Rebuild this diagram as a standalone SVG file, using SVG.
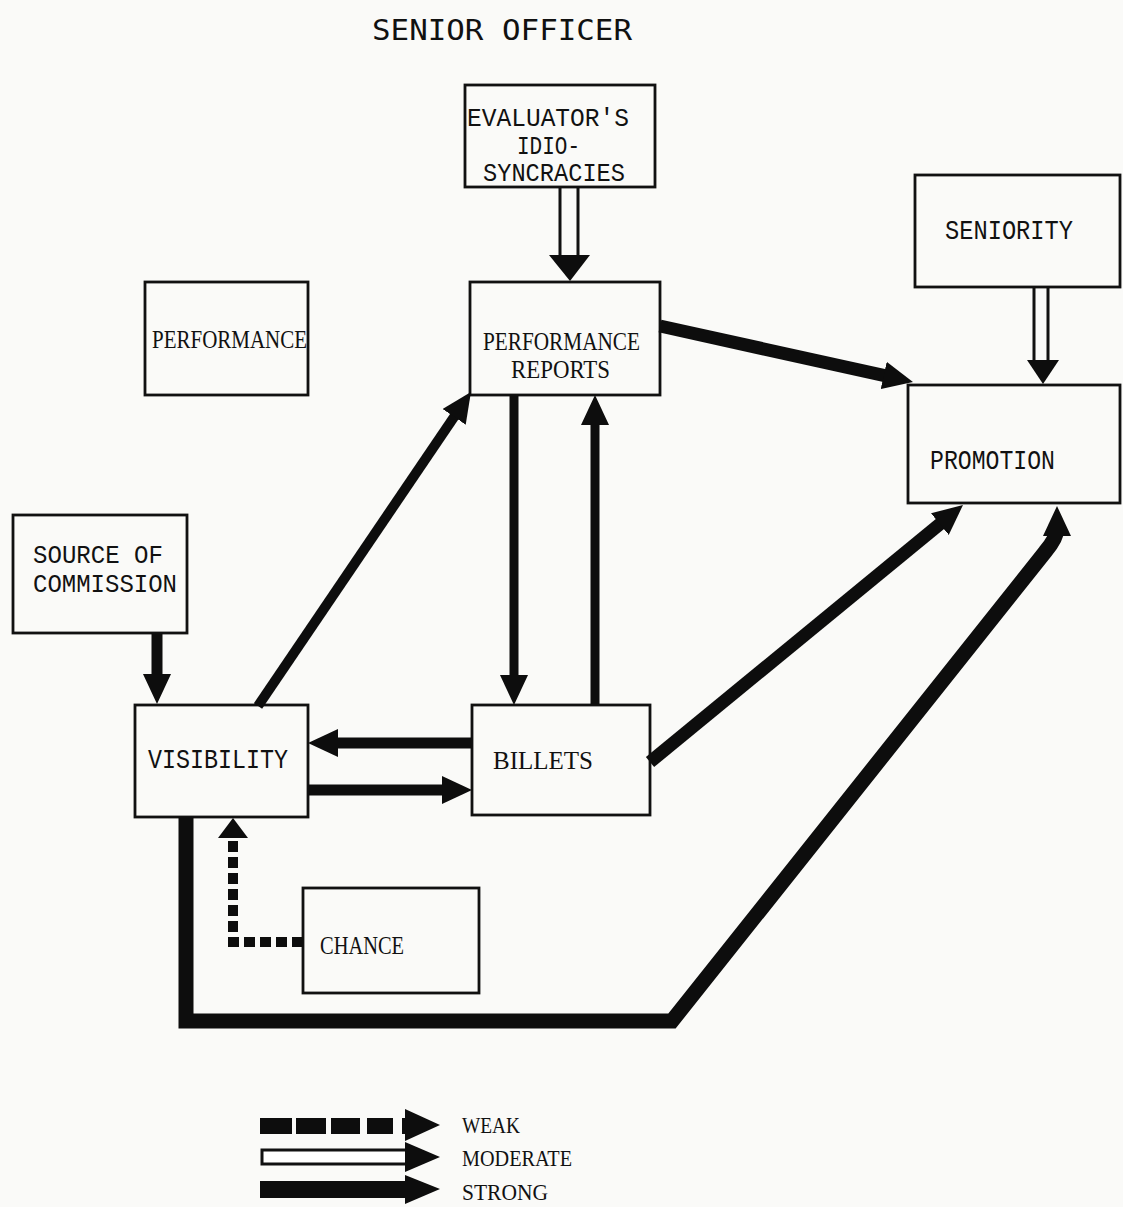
<svg xmlns="http://www.w3.org/2000/svg" width="1123" height="1207" viewBox="0 0 1123 1207">
<style>
.box{fill:none;stroke:#111;stroke-width:2.8}
.tw{font-family:"Liberation Mono","Courier New",monospace;font-size:27px;fill:#111}
.tw2{font-family:"Liberation Mono","Courier New",monospace;font-size:25px;fill:#111}
.sf{font-family:"Liberation Serif","Times New Roman",serif;font-size:25px;fill:#111}
.lg{font-family:"Liberation Serif","Times New Roman",serif;font-size:23px;fill:#111}
.ttl{font-family:"DejaVu Sans Mono","Liberation Mono",monospace;font-size:29px;fill:#111}
.strong{fill:none;stroke:#0d0d0d;stroke-linecap:butt;stroke-linejoin:miter}
.mod{stroke:#111;stroke-width:3;fill:none}
.head{fill:#0d0d0d}
</style>
<defs>
<marker id="ah" viewBox="0 0 30 28" refX="8" refY="14" markerWidth="30" markerHeight="28" markerUnits="userSpaceOnUse" orient="auto">
<path d="M0,0 L30,14 L0,28 Z" fill="#0d0d0d"/>
</marker>
</defs>
<rect width="1123" height="1207" fill="#fafaf8"/>
<text class="ttl" x="372" y="40" textLength="260" lengthAdjust="spacingAndGlyphs">SENIOR OFFICER</text>

<g id="evaluator">
<rect class="box" x="465" y="85" width="190" height="102"/>
<text class="tw2" x="467" y="126" font-size="24" textLength="162" lengthAdjust="spacingAndGlyphs">EVALUATOR'S</text>
<text class="tw2" x="517" y="154" font-size="19" textLength="63" lengthAdjust="spacingAndGlyphs">IDIO-</text>
<text class="tw2" x="483" y="181" font-size="21" textLength="142" lengthAdjust="spacingAndGlyphs">SYNCRACIES</text>
</g>
<g id="seniority">
<rect class="box" x="915" y="175" width="205" height="112"/>
<text class="tw" x="945" y="239" textLength="128" lengthAdjust="spacingAndGlyphs">SENIORITY</text>
</g>
<g id="performance">
<rect class="box" x="145" y="282" width="163" height="113"/>
<text class="sf" x="152" y="348" textLength="155" lengthAdjust="spacingAndGlyphs">PERFORMANCE</text>
</g>
<g id="performance-reports">
<rect class="box" x="470" y="282" width="190" height="113"/>
<text class="sf" x="483" y="350" textLength="157" lengthAdjust="spacingAndGlyphs">PERFORMANCE</text>
<text class="sf" x="511" y="378" textLength="99" lengthAdjust="spacingAndGlyphs">REPORTS</text>
</g>
<g id="promotion">
<rect class="box" x="908" y="385" width="212" height="118"/>
<text class="tw" x="930" y="469" textLength="125" lengthAdjust="spacingAndGlyphs">PROMOTION</text>
</g>
<g id="source-of-commission">
<rect class="box" x="13" y="515" width="174" height="118"/>
<text class="tw2" x="33" y="563" textLength="130" lengthAdjust="spacingAndGlyphs">SOURCE OF</text>
<text class="tw2" x="33" y="592" textLength="144" lengthAdjust="spacingAndGlyphs">COMMISSION</text>
</g>
<g id="visibility">
<rect class="box" x="135" y="705" width="173" height="112"/>
<text class="tw" x="148" y="768" textLength="140" lengthAdjust="spacingAndGlyphs">VISIBILITY</text>
</g>
<g id="billets">
<rect class="box" x="472" y="705" width="178" height="110"/>
<text class="sf" x="493" y="769" textLength="100" lengthAdjust="spacingAndGlyphs">BILLETS</text>
</g>
<g id="chance">
<rect class="box" x="303" y="888" width="176" height="105"/>
<text class="sf" x="320" y="954" textLength="84" lengthAdjust="spacingAndGlyphs">CHANCE</text>
</g>

<g id="connectors">
<line class="mod" x1="560" y1="187" x2="560" y2="256"/>
<line class="mod" x1="578" y1="187" x2="578" y2="256"/>
<polygon class="head" points="549,255 590,255 570,281"/>
<line class="mod" x1="1034" y1="287" x2="1034" y2="361"/>
<line class="mod" x1="1048" y1="287" x2="1048" y2="361"/>
<polygon class="head" points="1027,360 1059,360 1043,384"/>
<line class="strong" stroke-width="13" x1="660" y1="326" x2="891.5" y2="377.2" marker-end="url(#ah)"/>
<line class="strong" stroke-width="13" x1="650" y1="762" x2="946" y2="519" marker-end="url(#ah)"/>
<line class="strong" stroke-width="10" x1="258" y1="706" x2="458.6" y2="410.2" marker-end="url(#ah)"/>
<line class="strong" stroke-width="11" x1="157" y1="633" x2="157" y2="682" marker-end="url(#ah)"/>
<line class="strong" stroke-width="9" x1="514" y1="395" x2="514" y2="683" marker-end="url(#ah)"/>
<line class="strong" stroke-width="9" x1="595" y1="705" x2="595" y2="417" marker-end="url(#ah)"/>
<line class="strong" stroke-width="11" x1="472" y1="743" x2="330" y2="743" marker-end="url(#ah)"/>
<line class="strong" stroke-width="11" x1="308" y1="790" x2="450" y2="790" marker-end="url(#ah)"/>
<path class="strong" stroke-width="15" d="M186,817 V1021 H672 L1045,552 Q1057,538 1057,528" marker-end="url(#ah)"/>
<path d="M303,942 H233 V838" fill="none" stroke="#0d0d0d" stroke-width="10" stroke-dasharray="11 5"/>
<polygon class="head" points="218,838 248,838 233,818"/>
</g>

<g id="legend">
<rect x="260" y="1118" width="32" height="16" fill="#0d0d0d"/>
<rect x="296" y="1118" width="30" height="16" fill="#0d0d0d"/>
<rect x="331" y="1118" width="29" height="16" fill="#0d0d0d"/>
<rect x="367" y="1118" width="26" height="16" fill="#0d0d0d"/>
<rect x="402" y="1118" width="10" height="16" fill="#0d0d0d"/>
<polygon class="head" points="405,1109 405,1141 440,1125"/>
<text class="lg" x="462" y="1133" textLength="58" lengthAdjust="spacingAndGlyphs">WEAK</text>
<rect x="262" y="1150" width="145" height="14" fill="#fff" stroke="#111" stroke-width="3"/>
<polygon class="head" points="405,1142 405,1172 440,1157"/>
<text class="lg" x="462" y="1166" textLength="110" lengthAdjust="spacingAndGlyphs">MODERATE</text>
<rect x="260" y="1181" width="150" height="17" fill="#0d0d0d"/>
<polygon class="head" points="405,1175 405,1204 440,1189"/>
<text class="lg" x="462" y="1200" textLength="86" lengthAdjust="spacingAndGlyphs">STRONG</text>
</g>
</svg>
